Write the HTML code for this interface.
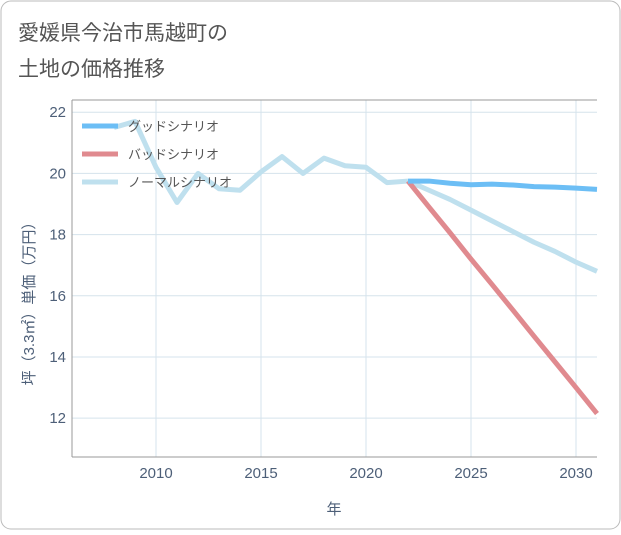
<!DOCTYPE html>
<html><head><meta charset="utf-8"><style>
body{margin:0;background:#fff;font-family:"Liberation Sans","Noto Sans CJK JP",sans-serif;}
</style></head><body>
<svg width="621" height="530" xmlns="http://www.w3.org/2000/svg" font-family="Liberation Sans, Noto Sans CJK JP, sans-serif">
<rect x="1" y="1" width="619" height="528" rx="10" fill="#fff" stroke="#bbb"/>
<text x="18" y="40" font-size="21" fill="#555">愛媛県今治市馬越町の</text>
<text x="18" y="76" font-size="21" fill="#555">土地の価格推移</text>
<g id="grid"></g>
<g id="series"></g>
<g id="axes"></g>
<text x="334" y="514" font-size="15" fill="#4d5f78" text-anchor="middle">年</text>
<text transform="translate(34,300) rotate(-90)" font-size="15" fill="#4d5f78" text-anchor="middle">坪（3.3㎡）単価（万円）</text>
<g>
<line x1="82" y1="126" x2="118" y2="126" stroke="#6cbef5" stroke-width="5"/>
<text x="128" y="131" font-size="13" fill="#555">グッドシナリオ</text>
<line x1="82" y1="154" x2="118" y2="154" stroke="#e08a8f" stroke-width="5"/>
<text x="128" y="159" font-size="13" fill="#555">バッドシナリオ</text>
<line x1="82" y1="182" x2="118" y2="182" stroke="#bfe0ee" stroke-width="5"/>
<text x="128" y="187" font-size="13" fill="#555">ノーマルシナリオ</text>
</g>
</svg>
<script>
const histYears=[2008,2009,2010,2011,2012,2013,2014,2015,2016,2017,2018,2019,2020,2021,2022];
const histValues=[21.5,21.7,20.2,19.05,20.0,19.5,19.45,20.05,20.55,20.0,20.5,20.25,20.2,19.7,19.75];
const futYears=[2022,2023,2024,2025,2026,2027,2028,2029,2030,2031];
const goodValues=[19.75,19.75,19.68,19.63,19.65,19.62,19.57,19.55,19.52,19.48];
const badValues=[19.75,18.9,18.06,17.2,16.37,15.53,14.68,13.84,13.0,12.15];
const normalValues=[19.75,19.45,19.15,18.8,18.45,18.1,17.75,17.45,17.1,16.8];
const xTicks=[2010,2015,2020,2025,2030];
const yTicks=[12,14,16,18,20,22];
const L=72,R=597,T=100,B=457,x0=2006,x1=2031,y0=10.73,y1=22.4;
const X=v=>L+(v-x0)/(x1-x0)*(R-L), Y=v=>B-(v-y0)/(y1-y0)*(B-T);
const NS="http://www.w3.org/2000/svg";
function mk(t,a,p){const e=document.createElementNS(NS,t);for(const k in a)e.setAttribute(k,a[k]);p.appendChild(e);return e;}
const g=document.getElementById('grid'),s=document.getElementById('series'),ax=document.getElementById('axes');
xTicks.forEach(t=>{const l=mk('line',{x1:X(t),x2:X(t),y1:T,y2:B,stroke:'#d5e3ec'},g);


const tx=mk('text',{x:X(t),y:B+21,'font-size':15,fill:'#4d5f78','text-anchor':'middle'},ax);tx.textContent=t;

});
yTicks.forEach(t=>{const l=mk('line',{x1:L,x2:R,y1:Y(t),y2:Y(t),stroke:'#d5e3ec'},g);


const tx=mk('text',{x:L-6,y:Y(t)+5,'font-size':15,fill:'#4d5f78','text-anchor':'end'},ax);tx.textContent=t;

});
mk('line',{x1:L,x2:L,y1:T,y2:B,stroke:'#999'},ax);
mk('line',{x1:L,x2:R,y1:B,y2:B,stroke:'#999'},ax);
mk('line',{x1:L,x2:R,y1:T,y2:T,stroke:'#999'},ax);
function line(xs,vs,c,name){const p=mk('polyline',{points:xs.map((x,i)=>X(x)+','+Y(vs[i])).join(' '),fill:'none',stroke:c,'stroke-width':5,'stroke-linejoin':'round'},s);

}
line(histYears,histValues,'#bfe0ee','history-line');
line(futYears,normalValues,'#bfe0ee','normal-line');
line(futYears,badValues,'#e08a8f','bad-line');
line(futYears,goodValues,'#6cbef5','good-line');
</script>
</body></html>
